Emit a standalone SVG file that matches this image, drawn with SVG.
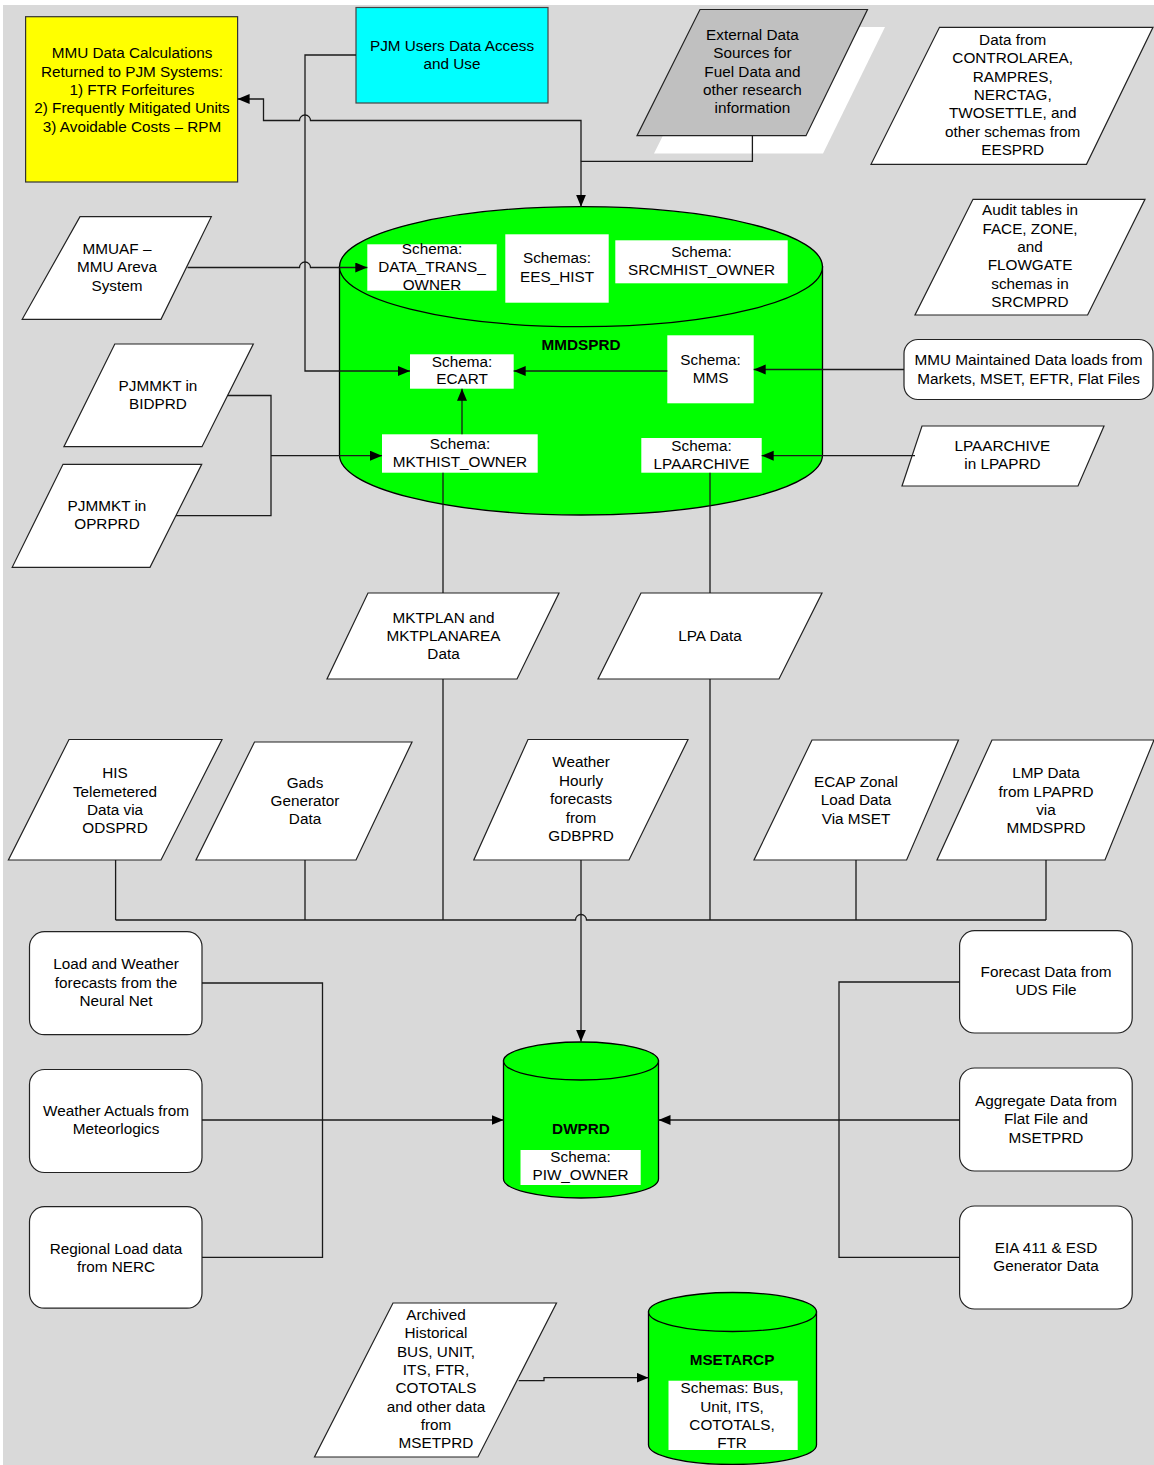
<svg xmlns="http://www.w3.org/2000/svg" width="1154" height="1465" viewBox="0 0 1154 1465">
<style>
text{font-family:"Liberation Sans",Arial,sans-serif;font-size:15.3px;text-anchor:middle;fill:#000}
.b{font-weight:bold}
.para{fill:#fff;stroke:#222;stroke-width:1.2}
.rbox{fill:#fff;stroke:#222;stroke-width:1.2}
.cyl{fill:#00ff00;stroke:#000;stroke-width:1.3}
.sch{fill:#fff;stroke:none}
.c{fill:none;stroke:#1a1a1a;stroke-width:1.3}
.ca{fill:none;stroke:#1a1a1a;stroke-width:1.3;marker-end:url(#arr)}
</style>
<defs>
<marker id="arr" markerWidth="13" markerHeight="11" refX="12" refY="5" orient="auto" markerUnits="userSpaceOnUse">
<path d="M0,0 L12,5 L0,10 Z" fill="#000"/>
</marker>
</defs>
<rect x="0" y="0" width="1154" height="1465" fill="#fff"/>
<rect x="3" y="5" width="1151" height="1460" fill="#d9d9d9"/>

<g id="mmdsprd">
<path class="cyl" d="M339.5,266.7 V455 A241.5,60 0 0 0 822.5,455 V266.7 Z"/>
<ellipse class="cyl" cx="581" cy="266.7" rx="241.5" ry="60"/>
<text class="b" x="581" y="349.5">MMDSPRD</text>
</g>
<g id="schema-data-trans">
<rect class="sch" x="367.3" y="244.3" width="129.4" height="46.4"/>
<text x="432" y="254.3">Schema:</text><text x="432" y="272.3">DATA_TRANS_</text><text x="432" y="290.3">OWNER</text>
</g>
<g id="schema-ees-hist">
<rect class="sch" x="505.3" y="234.3" width="103.4" height="68.4"/>
<text x="557" y="263">Schemas:</text><text x="557" y="281.5">EES_HIST</text>
</g>
<g id="schema-srcmhist">
<rect class="sch" x="615.3" y="240.3" width="172.4" height="43"/>
<text x="701.5" y="257">Schema:</text><text x="701.5" y="275.3">SRCMHIST_OWNER</text>
</g>
<g id="schema-ecart">
<rect class="sch" x="410" y="354.3" width="103.7" height="34.4"/>
<text x="462" y="366.5">Schema:</text><text x="462" y="384">ECART</text>
</g>
<g id="schema-mms">
<rect class="sch" x="667.3" y="335.3" width="86.4" height="68"/>
<text x="710.5" y="364.5">Schema:</text><text x="710.5" y="383">MMS</text>
</g>
<g id="schema-mkthist">
<rect class="sch" x="382" y="434.3" width="155.7" height="38.4"/>
<text x="460" y="448.5">Schema:</text><text x="460" y="467">MKTHIST_OWNER</text>
</g>
<g id="schema-lpaarchive">
<rect class="sch" x="641.3" y="438" width="120.4" height="34.7"/>
<text x="701.5" y="450.5">Schema:</text><text x="701.5" y="468.7">LPAARCHIVE</text>
</g>

<g id="dwprd">
<path class="cyl" d="M503.5,1061 V1179 A77.5,19 0 0 0 658.5,1179 V1061 Z"/>
<ellipse class="cyl" cx="581" cy="1061" rx="77.5" ry="19"/>
<text class="b" x="581" y="1133.8">DWPRD</text>
<rect class="sch" x="520.5" y="1150" width="120.2" height="35"/>
<text x="580.5" y="1162.3">Schema:</text><text x="580.5" y="1180.3">PIW_OWNER</text>
</g>

<g id="msetarcp">
<path class="cyl" d="M648.5,1312 V1445 A84,19.5 0 0 0 816.5,1445 V1312 Z"/>
<ellipse class="cyl" cx="732.5" cy="1312" rx="84" ry="19.5"/>
<text class="b" x="732" y="1365">MSETARCP</text>
<rect class="sch" x="668.5" y="1380.7" width="129.2" height="69.3"/>
<text x="732" y="1393.3">Schemas: Bus,</text><text x="732" y="1411.7">Unit, ITS,</text><text x="732" y="1430">COTOTALS,</text><text x="732" y="1448.3">FTR</text>
</g>

<g id="mmu-calcs">
<rect x="25.6" y="16.7" width="212" height="165.3" fill="#ffff00" stroke="#333" stroke-width="1.2"/>
<text x="132" y="58.3">MMU Data Calculations</text>
<text x="132" y="76.6">Returned to PJM Systems:</text>
<text x="132" y="94.9">1) FTR Forfeitures</text>
<text x="132" y="113.2">2) Frequently Mitigated Units</text>
<text x="132" y="131.5">3) Avoidable Costs – RPM</text>
</g>
<g id="pjm-users">
<rect x="356" y="7.5" width="192" height="95.5" fill="#00ffff" stroke="#444" stroke-width="1.2"/>
<text x="452" y="50.5">PJM Users Data Access</text>
<text x="452" y="68.5">and Use</text>
</g>
<g id="external-data">
<polygon points="717,27 885,27 823,153.5 654,153.5" fill="#fff"/>
<polygon points="700,9.5 867.5,9.5 806,135.7 637,135.7" fill="#c0c0c0" stroke="#222" stroke-width="1.2"/>
<text x="752.4" y="40">External Data</text>
<text x="752.4" y="58.3">Sources for</text>
<text x="752.4" y="76.6">Fuel Data and</text>
<text x="752.4" y="95">other research</text>
<text x="752.4" y="113.3">information</text>
</g>
<g id="controlarea">
<polygon class="para" points="939.5,27.3 1153,27.3 1086.5,164.3 871,164.3"/>
<text x="1012.7" y="45">Data from</text>
<text x="1012.7" y="63.3">CONTROLAREA,</text>
<text x="1012.7" y="81.6">RAMPRES,</text>
<text x="1012.7" y="100">NERCTAG,</text>
<text x="1012.7" y="118.3">TWOSETTLE, and</text>
<text x="1012.7" y="136.6">other schemas from</text>
<text x="1012.7" y="155">EESPRD</text>
</g>
<g id="audit-tables">
<polygon class="para" points="973,199.3 1145,199.3 1087.6,315 915,315"/>
<text x="1030" y="215">Audit tables in</text>
<text x="1030" y="233.6">FACE, ZONE,</text>
<text x="1030" y="252">and</text>
<text x="1030" y="270.3">FLOWGATE</text>
<text x="1030" y="288.6">schemas in</text>
<text x="1030" y="307">SRCMPRD</text>
</g>
<g id="mmuaf">
<polygon class="para" points="80,216.7 211.3,216.7 161,319.3 22.2,319.3"/>
<text x="117" y="253.7">MMUAF –</text>
<text x="117" y="272">MMU Areva</text>
<text x="117" y="290.5">System</text>
</g>
<g id="pjmmkt-bidprd">
<polygon class="para" points="114.8,344 253.3,344 202,446.7 63.9,446.7"/>
<text x="158" y="390.7">PJMMKT in</text>
<text x="158" y="409">BIDPRD</text>
</g>
<g id="pjmmkt-oprprd">
<polygon class="para" points="63,464.3 201.7,464.3 150,567.3 12.2,567.3"/>
<text x="107" y="511">PJMMKT in</text>
<text x="107" y="529.3">OPRPRD</text>
</g>
<g id="mmu-maintained">
<rect class="rbox" x="904" y="339.5" width="249" height="60" rx="14"/>
<text x="1028.5" y="365">MMU Maintained Data loads from</text>
<text x="1028.5" y="383.5">Markets, MSET, EFTR, Flat Files</text>
</g>
<g id="lpaarchive-lpaprd">
<polygon class="para" points="922,426 1104,426 1078,486 902,486"/>
<text x="1002.4" y="450.8">LPAARCHIVE</text>
<text x="1002.4" y="469.3">in LPAPRD</text>
</g>
<g id="mktplan">
<polygon class="para" points="368,593 559,593 517,679 327,679"/>
<text x="443.5" y="622.5">MKTPLAN and</text>
<text x="443.5" y="640.8">MKTPLANAREA</text>
<text x="443.5" y="659">Data</text>
</g>
<g id="lpa-data">
<polygon class="para" points="641,593 822,593 779,679 598,679"/>
<text x="710" y="640.8">LPA Data</text>
</g>
<g id="his">
<polygon class="para" points="69,739.5 222,739.5 161,860 8.4,860"/>
<text x="115" y="778">HIS</text>
<text x="115" y="796.5">Telemetered</text>
<text x="115" y="815">Data via</text>
<text x="115" y="833.3">ODSPRD</text>
</g>
<g id="gads">
<polygon class="para" points="254.5,742 412,742 356,860 196,860"/>
<text x="305" y="787.7">Gads</text>
<text x="305" y="806">Generator</text>
<text x="305" y="824.3">Data</text>
</g>
<g id="weather-hourly">
<polygon class="para" points="528,739.5 688,739.5 629,860 473.8,860"/>
<text x="581" y="767">Weather</text>
<text x="581" y="785.5">Hourly</text>
<text x="581" y="804">forecasts</text>
<text x="581" y="822.5">from</text>
<text x="581" y="841">GDBPRD</text>
</g>
<g id="ecap">
<polygon class="para" points="812,740 958.5,740 906.6,860 754,860"/>
<text x="856" y="787.3">ECAP Zonal</text>
<text x="856" y="805.3">Load Data</text>
<text x="856" y="823.5">Via MSET</text>
</g>
<g id="lmp">
<polygon class="para" points="992,740 1154,740 1105,860 937,860"/>
<text x="1046" y="778.3">LMP Data</text>
<text x="1046" y="796.7">from LPAPRD</text>
<text x="1046" y="815">via</text>
<text x="1046" y="833.3">MMDSPRD</text>
</g>
<g id="load-weather-nn">
<rect class="rbox" x="29.5" y="931.7" width="172.5" height="103" rx="15"/>
<text x="116" y="969.3">Load and Weather</text>
<text x="116" y="987.7">forecasts from the</text>
<text x="116" y="1006">Neural Net</text>
</g>
<g id="weather-actuals">
<rect class="rbox" x="29.5" y="1069.5" width="172.5" height="103" rx="15"/>
<text x="116" y="1116">Weather Actuals from</text>
<text x="116" y="1134.3">Meteorlogics</text>
</g>
<g id="regional-load">
<rect class="rbox" x="29.5" y="1206.7" width="172.5" height="101.5" rx="15"/>
<text x="116" y="1254">Regional Load data</text>
<text x="116" y="1271.7">from NERC</text>
</g>
<g id="forecast-uds">
<rect class="rbox" x="959.6" y="930.7" width="172.6" height="102.3" rx="15"/>
<text x="1046" y="977.3">Forecast Data from</text>
<text x="1046" y="995.3">UDS File</text>
</g>
<g id="aggregate">
<rect class="rbox" x="959.6" y="1068" width="172.6" height="103" rx="15"/>
<text x="1046" y="1106">Aggregate Data from</text>
<text x="1046" y="1124.3">Flat File and</text>
<text x="1046" y="1142.5">MSETPRD</text>
</g>
<g id="eia411">
<rect class="rbox" x="959.6" y="1206" width="172.6" height="103" rx="15"/>
<text x="1046" y="1252.5">EIA 411 &amp; ESD</text>
<text x="1046" y="1271">Generator Data</text>
</g>
<g id="archived">
<polygon class="para" points="393,1303 556.5,1303 478,1457 314.5,1457"/>
<text x="436" y="1320">Archived</text>
<text x="436" y="1338.3">Historical</text>
<text x="436" y="1356.7">BUS, UNIT,</text>
<text x="436" y="1375">ITS, FTR,</text>
<text x="436" y="1393.3">COTOTALS</text>
<text x="436" y="1411.7">and other data</text>
<text x="436" y="1430">from</text>
<text x="436" y="1448.3">MSETPRD</text>
</g>

<g id="connectors">
<path class="ca" d="M356,55 H305 V371 H410"/>
<path class="ca" d="M752.4,135.7 V161.3 H581 V206.7"/>
<path class="ca" d="M581,161.3 V120.5 H310.5 A5.5,5.5 0 0 0 299.5,120.5 H263.5 V99 H237.6"/>
<path class="ca" d="M187.5,267.5 H299.5 A5.5,5.5 0 0 1 310.5,267.5 H367.3"/>
<path class="c" d="M227.7,395.5 H271 V515.7 H176"/>
<path class="ca" d="M271,455.7 H382"/>
<path class="ca" d="M462,434.3 V388.7"/>
<path class="ca" d="M667.3,371 H513.7"/>
<path class="ca" d="M904,369.5 H753.7"/>
<path class="ca" d="M915,455.7 H761.7"/>
<path class="c" d="M443,472.7 V593 M443,679 V920"/>
<path class="c" d="M710,472.7 V593 M710,679 V920"/>
<path class="c" d="M115.6,920 H575.5 A5.5,5.5 0 0 1 586.5,920 H1046"/>
<path class="c" d="M115.6,860 V920 M305,860 V920 M856,860 V920 M1046,860 V920"/>
<path class="ca" d="M581,860 V1041.7"/>
<path class="c" d="M202,983 H322.5 V1257.3 H202"/>
<path class="ca" d="M202,1120 H503.5"/>
<path class="c" d="M959.6,982 H839 V1257.3 H959.6"/>
<path class="ca" d="M959.6,1120 H658.5"/>
<path class="ca" d="M518.7,1380.7 H544 V1377.7 H648.5"/>
</g>
</svg>
